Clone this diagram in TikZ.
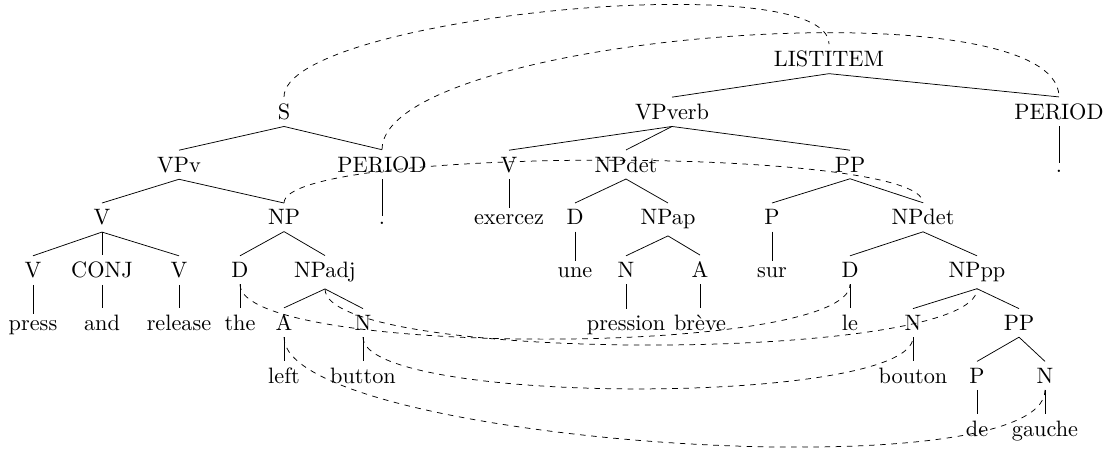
\documentclass[tikz,border=0pt]{standalone}
\font\treefont="[lmroman10-regular]:+tlig;" at 12pt
\begin{document}
\begin{tikzpicture}[x=0.53888pt,y=-0.53888pt,
  tn/.style={anchor=base,inner sep=3.4pt,font=\treefont},
  edge/.style={line width=0.4pt},
  align/.style={dashed,line width=0.4pt}]
\useasboundingbox (0,0) rectangle (1106,452);
% row baselines
\def\ra{66.5}\def\rb{119.3}\def\rc{172.1}\def\rd{224.9}
\def\re{277.7}\def\rf{330.5}\def\rg{383.3}\def\rh{436.1}

% English tree
\node[tn] (S) at (284,\rb) {S};
\node[tn] (VPv) at (179,\rc) {VPv};
\node[tn] (PERa) at (382,\rc) {PERIOD};
\node[tn] (Va) at (102,\rd) {V};
\node[tn] (NPa) at (284,\rd) {NP};
\node[tn] (dota) at (382,\rd) {.};
\node[tn] (Vb) at (33,\re) {V};
\node[tn] (CONJ) at (102,\re) {CONJ};
\node[tn] (Vc) at (179,\re) {V};
\node[tn] (Da) at (240,\re) {D};
\node[tn] (NPadj) at (325,\re) {NPadj};
\node[tn] (press) at (33,\rf) {press};
\node[tn] (and) at (102,\rf) {and};
\node[tn] (release) at (179,\rf) {release};
\node[tn] (the) at (240,\rf) {the};
\node[tn] (Aa) at (284,\rf) {A};
\node[tn] (Na) at (363,\rf) {N};
\node[tn] (left) at (284,\rg) {left};
\node[tn] (button) at (363,\rg) {button};

% French tree
\node[tn] (LI) at (829,\ra) {LISTITEM};
\node[tn] (VPverb) at (672,\rb) {VPverb};
\node[tn] (PERb) at (1059,\rb) {PERIOD};
\node[tn] (Vd) at (509,\rc) {V};
\node[tn] (NPdet) at (626,\rc) {NPdet};
\node[tn] (PP) at (850,\rc) {PP};
\node[tn] (dotb) at (1059,\rc) {.};
\node[tn] (exercez) at (509,\rd) {exercez};
\node[tn] (Db) at (575,\rd) {D};
\node[tn] (NPap) at (668,\rd) {NPap};
\node[tn] (Pa) at (772,\rd) {P};
\node[tn] (NPdetb) at (923,\rd) {NPdet};
\node[tn] (une) at (575,\re) {une};
\node[tn] (Nb) at (626,\re) {N};
\node[tn] (Ab) at (700,\re) {A};
\node[tn] (sur) at (772,\re) {sur};
\node[tn] (Dc) at (850,\re) {D};
\node[tn] (NPpp) at (977,\re) {NPpp};
\node[tn] (pression) at (626,\rf) {pression};
\node[tn] (breve) at (700,\rf) {brève};
\node[tn] (le) at (850,\rf) {le};
\node[tn] (Nc) at (913,\rf) {N};
\node[tn] (PPb) at (1019,\rf) {PP};
\node[tn] (bouton) at (913,\rg) {bouton};
\node[tn] (Pb) at (977,\rg) {P};
\node[tn] (Nd) at (1045,\rg) {N};
\node[tn] (de) at (977,\rh) {de};
\node[tn] (gauche) at (1045,\rh) {gauche};

% tree edges
\foreach \p/\c in {S/VPv,S/PERa,VPv/Va,VPv/NPa,PERa/dota,
  Va/Vb,Va/CONJ,Va/Vc,NPa/Da,NPa/NPadj,
  Vb/press,CONJ/and,Vc/release,Da/the,NPadj/Aa,NPadj/Na,
  Aa/left,Na/button,
  LI/VPverb,LI/PERb,VPverb/Vd,VPverb/NPdet,VPverb/PP,PERb/dotb,
  Vd/exercez,NPdet/Db,NPdet/NPap,PP/Pa,PP/NPdetb,
  Db/une,NPap/Nb,NPap/Ab,Pa/sur,NPdetb/Dc,NPdetb/NPpp,
  Nb/pression,Ab/breve,Dc/le,NPpp/Nc,NPpp/PPb,
  Nc/bouton,PPb/Pb,PPb/Nd,Pb/de,Nd/gauche}
  \draw[edge] (\p.south) -- (\c.north);

% alignment links
\draw[align] (S.north) .. controls +(0,-80) and +(0,-80) .. (LI.north);
\draw[align] (PERa.north) .. controls +(0,-115) and +(0,-115) .. (PERb.north);
\draw[align] (NPa.north) .. controls +(0,-57) and +(0,-57) .. (NPdetb.north);
\draw[align] (Da.south) .. controls +(0,73) and +(0,73) .. (Dc.south);
\draw[align] (NPadj.south) .. controls +(0,75) and +(0,75) .. (NPpp.south);
\draw[align] (Na.south) .. controls +(0,69) and +(0,69) .. (Nc.south);
\draw[align] (Aa.south) .. controls +(0,105) and +(0,105) .. (Nd.south);
\end{tikzpicture}
\end{document}
